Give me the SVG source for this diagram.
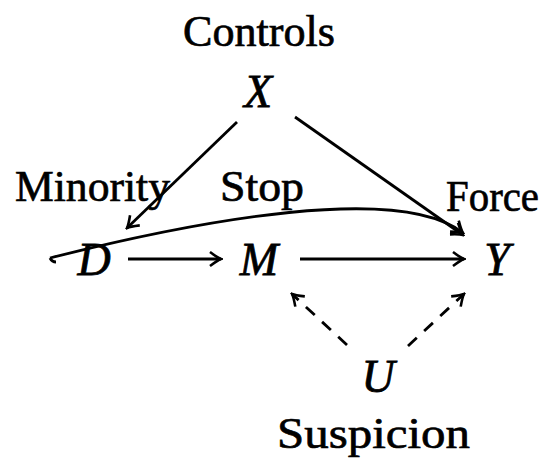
<svg xmlns="http://www.w3.org/2000/svg" width="547" height="463" viewBox="0 0 547 463">
<defs>
<style>
.lbl{font-family:"Liberation Serif",serif;font-size:45px;fill:#000;stroke:#000;stroke-width:0.7}
.var{font-family:"Liberation Serif",serif;font-style:italic;font-size:46px;fill:#000;stroke:#000;stroke-width:0.8}
.e{fill:none;stroke:#000;stroke-width:2.8}
.d{stroke-dasharray:12 10}
</style>
<marker id="ah" viewBox="-13 -9 15 18" markerWidth="15" markerHeight="18" refX="0" refY="0" orient="auto" markerUnits="userSpaceOnUse">
<path d="M-11,-7 Q-3,-1 0,0 Q-3,1 -11,7" fill="none" stroke="#000" stroke-width="2.6"/>
</marker>
</defs>
<rect width="547" height="463" fill="#fff"/>
<g id="controls"><text class="lbl" x="259" y="46" text-anchor="middle" textLength="152" lengthAdjust="spacingAndGlyphs">Controls</text></g>
<g id="X"><text class="var" x="258" y="107" text-anchor="middle">X</text></g>
<g id="minority"><text class="lbl" x="15" y="201" textLength="155" lengthAdjust="spacingAndGlyphs">Minority</text></g>
<g id="stop"><text class="lbl" x="220" y="201" textLength="84" lengthAdjust="spacingAndGlyphs">Stop</text></g>
<g id="force"><text class="lbl" x="446" y="211" textLength="93" lengthAdjust="spacingAndGlyphs">Force</text></g>
<g id="D"><text class="var" x="94" y="275" text-anchor="middle">D</text></g>
<g id="M"><text class="var" x="259" y="275" text-anchor="middle">M</text></g>
<g id="Y"><text class="var" x="497" y="275" text-anchor="middle">Y</text></g>
<g id="U"><text class="var" x="378" y="392" text-anchor="middle">U</text></g>
<g id="suspicion"><text class="lbl" x="277" y="448" textLength="193" lengthAdjust="spacingAndGlyphs">Suspicion</text></g>
<g id="connectors">
<path class="e" d="M128,259 L221,259" marker-end="url(#ah)"/>
<path class="e" d="M300,259 L464,259" marker-end="url(#ah)"/>
<path class="e" d="M237,122 L127,228" marker-end="url(#ah)"/>
<path class="e" d="M295,117 L463,235" marker-end="url(#ah)"/>
<path class="e" d="M50,258 C200,220 400,183 463,233" marker-end="url(#ah)"/>
<path class="e" d="M50,258 Q52,262 56,262"/>
<path class="e d" d="M347,345 L292,294" marker-end="url(#ah)"/>
<path class="e d" d="M408,346 L464,294" marker-end="url(#ah)"/>
</g>
</svg>
